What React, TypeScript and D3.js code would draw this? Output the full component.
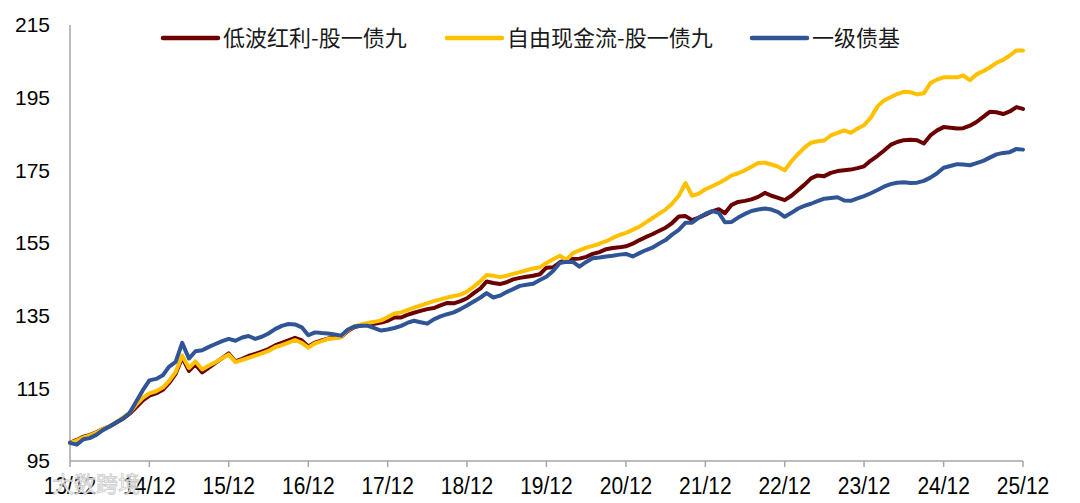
import * as d3 from 'd3';

// monthly readings, Dec 2013 .. Dec 2025 (145 points each)
const START_YEAR = 2013;
const START_MONTH = 11;

const LOW_VOL: number[] = [
  100, 100.8, 101.7, 102.1, 102.9, 103.8, 104.5, 105.5, 106.6, 108, 109.8, 111.7,
  113, 113.6, 114.6, 116.4, 119, 123.5, 119.8, 121.6, 119.4, 120.7, 122, 123.3,
  124.6, 122.4, 123.1, 123.9, 124.5, 125.1, 125.8, 126.8, 127.5, 128.2, 128.9, 128.2,
  126.5, 127.6, 128.2, 128.7, 128.9, 129.1, 130.8, 131.9, 132.3, 132.6, 132.8, 133.1,
  133.6, 134.5, 134.5, 135.2, 135.8, 136.3, 136.8, 137.1, 137.8, 138.5, 138.4, 139,
  139.8, 141.2, 142.5, 144.4, 144, 143.7, 144.2, 145, 145.4, 145.7, 146, 146.4,
  148.2, 148.3, 149.7, 150.3, 150.6, 150.7, 151.2, 152, 152.5, 153.3, 153.6, 153.8,
  154.1, 154.8, 155.8, 156.6, 157.4, 158.3, 159.2, 160.5, 162.3, 162.4, 161.3, 162,
  162.8, 163.7, 164.3, 163.2, 165.5, 166.3, 166.6, 167, 167.7, 168.8, 168, 167.4,
  166.8, 168, 169.6, 171, 172.8, 173.6, 173.4, 174.3, 174.8, 175, 175.2, 175.6,
  176.1, 177.7, 179, 180.4, 182, 182.8, 183.3, 183.4, 183.3, 182.4, 184.6, 186,
  186.9, 186.7, 186.5, 186.6, 187.3, 188.3, 189.7, 191.1, 191, 190.5, 191.2, 192.4,
  191.9,
];

const FREE_CASH: number[] = [
  100, 100.6, 101.5, 102, 102.8, 103.8, 104.6, 105.7, 106.9, 108.3, 110.5, 112.4,
  113.6, 114.2, 115.2, 117, 119.5, 124, 120.6, 122.4, 120.2, 121.3, 122.2, 123.3,
  124.3, 122.2, 122.8, 123.4, 124, 124.6, 125.3, 126.3, 126.9, 127.6, 128.3, 127.5,
  126.2, 127.4, 128, 128.6, 128.8, 129.1, 131, 132.1, 132.6, 133, 133.3, 133.7,
  134.6, 135.6, 135.9, 136.5, 137.2, 137.8, 138.4, 139, 139.5, 140, 140.4, 140.8,
  141.6, 143, 144.5, 146.2, 146, 145.6, 146, 146.5, 147, 147.5, 148, 148.3,
  149.5, 150.5, 151.5, 150.4, 152.2, 153, 153.7, 154.2, 154.8, 155.5, 156.4, 157.2,
  157.8, 158.6, 159.5, 160.6, 161.8, 163, 164.2, 165.8, 168, 171.5, 168, 168.6,
  169.8, 170.6, 171.5, 172.4, 173.6, 174.2, 175, 176, 177, 177.1, 176.6, 176,
  175, 177.5, 179.5, 181.2, 182.6, 183, 183.2, 184.6, 185.3, 186, 185.3, 186.5,
  187.4, 189.5, 192.6, 194.2, 195.1, 196, 196.6, 196.5, 195.9, 196.2, 199, 200,
  200.6, 200.6, 200.6, 201.1, 199.8, 201.4, 202.3, 203.3, 204.6, 205.4, 206.6, 208,
  208,
];

const BOND_FUND: number[] = [
  100, 99.5, 101, 101.3, 102.2, 103.5, 104.5, 105.6, 106.7, 108.2, 111.3, 114.5,
  117.2, 117.6, 118.6, 120.9, 122.3, 127.5, 123.2, 125.2, 125.5, 126.4, 127.2, 128,
  128.6, 128.1, 129, 129.4, 128.6, 129.2, 130.1, 131.3, 132.2, 132.7, 132.6, 131.8,
  129.6, 130.4, 130.2, 130.1, 129.8, 129.5, 131.2, 132, 132.2, 132.2, 131.6, 130.9,
  131.2, 131.6, 132.2, 133, 133.6, 133.2, 132.8, 134, 134.8, 135.4, 135.9, 136.8,
  137.8, 138.9, 140, 141.2, 140, 140.5, 141.5, 142.3, 143.2, 143.5, 143.8, 144.8,
  145.7, 147.3, 149.5, 149.8, 149.8, 148.5, 149.8, 150.8, 151, 151.3, 151.5, 151.8,
  152, 151.3, 152.2, 153, 153.7, 154.8, 155.8, 157.3, 158.6, 160.6, 160.6, 162,
  163, 163.8, 163.3, 160.7, 160.8, 162, 163, 163.8, 164.2, 164.5, 164.2, 163.5,
  162.2, 163.3, 164.5, 165.2, 165.8, 166.5, 167.2, 167.4, 167.6, 166.7, 166.6, 167.3,
  167.9, 168.7, 169.6, 170.5, 171.2, 171.6, 171.7, 171.5, 171.6, 172.1, 173, 174.2,
  175.7, 176.2, 176.7, 176.6, 176.4, 177, 177.6, 178.5, 179.4, 179.8, 180, 180.9,
  180.7,
];

const SERIES = [
  { name: '低波红利-股一债九', values: LOW_VOL, color: '#6B0000' },
  { name: '自由现金流-股一债九', values: FREE_CASH, color: '#FFC000' },
  { name: '一级债基', values: BOND_FUND, color: '#2F5597' },
];

const Y_TICKS = [95, 115, 135, 155, 175, 195, 215];
const X_TICK_LABELS = ['13/12', '14/12', '15/12', '16/12', '17/12', '18/12', '19/12',
  '20/12', '21/12', '22/12', '23/12', '24/12', '25/12'];

const LEGEND_X = [163, 447, 752];

const W = 1080;
const H = 503;
const FONT = 'Liberation Sans, Arial, sans-serif';
const CJK = '"Noto Sans CJK SC", sans-serif';

export default function App() {
  const monthDate = (i: number) => new Date(START_YEAR, START_MONTH + i, 1);

  const x = d3.scaleTime()
    .domain([monthDate(0), monthDate(144)])
    .range([70, 1023]);

  const y = d3.scaleLinear()
    .domain([95, 215])
    .range([461, 25]);

  const line = d3.line<number>()
    .x((_, i) => x(monthDate(i)))
    .y(d => y(d));

  const xTicks = X_TICK_LABELS.map((label, i) => ({ label, date: monthDate(i * 12) }));

  return (
    <svg width={W} height={H} style={{ position: 'absolute', left: 0, top: 0, background: '#fff' }}>
      {/* axes */}
      <line x1={70} x2={70} y1={y(215)} y2={y(95)} stroke="#a6a6a6" strokeWidth={1.5} />
      <line x1={70} x2={1023} y1={y(95)} y2={y(95)} stroke="#a6a6a6" strokeWidth={1.5} />
      {xTicks.map(t => (
        <line key={t.label} x1={x(t.date)} x2={x(t.date)} y1={y(95)} y2={y(95) + 6}
          stroke="#a6a6a6" strokeWidth={1.5} />
      ))}

      {/* y labels */}
      {Y_TICKS.map(t => (
        <text key={t} x={50} y={y(t)} dy="0.35em" textAnchor="end"
          fontSize={21} fontFamily={FONT} fill="#000">
          {t}
        </text>
      ))}

      {/* x labels, slightly stretched vertically like the source */}
      {xTicks.map(t => (
        <text key={t.label}
          transform={`translate(${x(t.date)},494) scale(1,1.15)`}
          textAnchor="middle" fontSize={21} fontFamily={FONT} fill="#000">
          {t.label}
        </text>
      ))}

      {/* series */}
      {SERIES.map(s => (
        <path key={s.name} d={line(s.values) ?? ''} fill="none" stroke={s.color}
          strokeWidth={4} strokeLinejoin="round" strokeLinecap="round" />
      ))}

      {/* legend */}
      {SERIES.map((s, i) => (
        <g key={`lg-${s.name}`} transform={`translate(${LEGEND_X[i]},38)`}>
          <line x1={0} x2={55} y1={0} y2={0} stroke={s.color} strokeWidth={4.5} strokeLinecap="round" />
          <text x={60} y={0} dy="0.36em" fontSize={22} fontFamily={CJK} fill="#1a1a1a">
            {s.name}
          </text>
        </g>
      ))}

      {/* watermark */}
      <text x={52} y={492} fontSize={22} fontFamily={CJK} fill="#fff" fillOpacity={0.85}
        stroke="#b0b0b0" strokeWidth={0.8} strokeOpacity={0.7}>
        大数跨境
      </text>
    </svg>
  );
}
